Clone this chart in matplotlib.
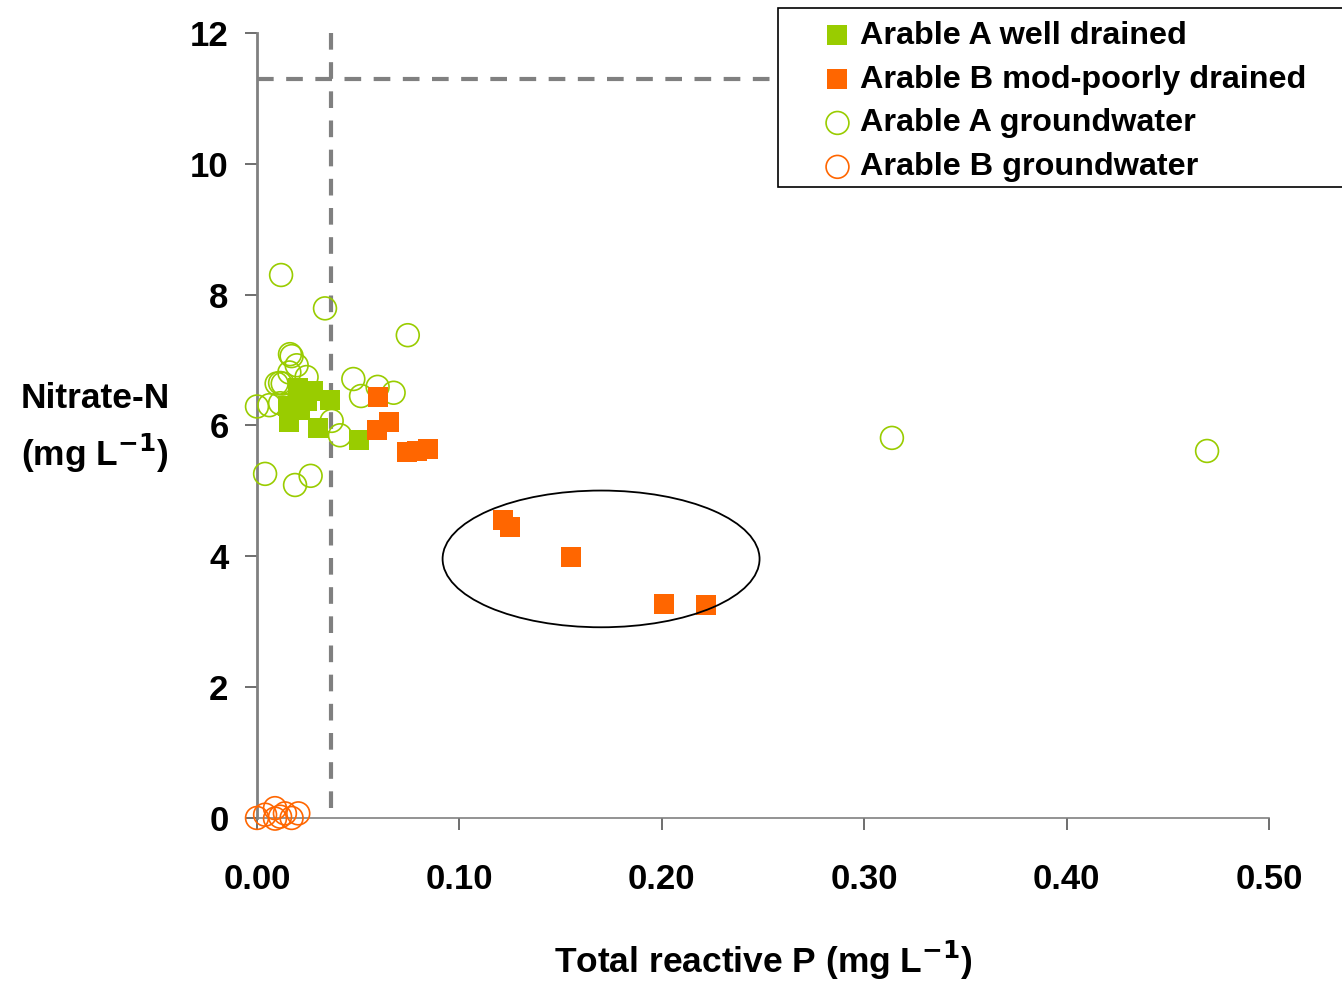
import matplotlib
matplotlib.use("Agg")
import matplotlib.pyplot as plt
from matplotlib.patches import Ellipse, Rectangle

plt.rcParams['font.family'] = ['Liberation Sans', 'DejaVu Sans']
plt.rcParams['font.weight'] = 'bold'
plt.rcParams['mathtext.default'] = 'bf'

# Arable A well drained (filled green squares)
a_drained_x = [0.0204, 0.0278, 0.0360, 0.0155, 0.0212, 0.0245, 0.0160, 0.0303, 0.0506]
a_drained_y = [6.57, 6.52, 6.39, 6.29, 6.24, 6.37, 6.06, 5.96, 5.78]

# Arable B mod-poorly drained (filled orange squares)
b_drained_x = [0.0600, 0.0654, 0.0591, 0.0740, 0.0792, 0.0847, 0.1215, 0.1250, 0.1550, 0.2010, 0.2220]
b_drained_y = [6.43, 6.06, 5.93, 5.59, 5.61, 5.64, 4.56, 4.45, 3.99, 3.27, 3.26]

# Arable A groundwater (open green circles)
a_gw_x = [0.0119, 0.0336, 0.0745, 0.0163, 0.0171, 0.0196, 0.0160, 0.0245, 0.0097, 0.0114,
          0.0127, 0.0476, 0.0596, 0.0514, 0.0675, 0.0000, 0.0061, 0.0114, 0.0369, 0.0410,
          0.0040, 0.0188, 0.0265, 0.3137, 0.4694]
a_gw_y = [8.30, 7.79, 7.38, 7.09, 7.06, 6.92, 6.81, 6.74, 6.64, 6.65,
          6.64, 6.71, 6.59, 6.45, 6.50, 6.29, 6.31, 6.34, 6.07, 5.85,
          5.26, 5.09, 5.23, 5.81, 5.61]

# Arable B groundwater (open orange circles)
b_gw_x = [0.0000, 0.0040, 0.0089, 0.0114, 0.0138, 0.0171, 0.0204, 0.0089]
b_gw_y = [0.00, 0.05, 0.15, 0.02, 0.07, 0.00, 0.07, -0.01]

# reference lines
p_limit = 0.0366
n_limit = 11.3

green = '#99CC00'
orange = '#FF6600'

fig = plt.figure(figsize=(13.42, 9.81), dpi=100)
ax = fig.add_axes([0.1915, 0.1662, 0.7541, 0.8002])

# dashed limit lines, drawn from the top / left so the dashes start at the axis ends
ax.plot([p_limit, p_limit], [12, 0], color='#808080', lw=3, ls=(0, (4, 3)), zorder=1, clip_on=False)
ax.plot([0, 0.5], [n_limit, n_limit], color='#808080', lw=3, ls=(0, (4, 3)), zorder=1)

ax.scatter(a_gw_x, a_gw_y, s=270, facecolors='none', edgecolors=green, linewidths=1.2,
           label='Arable A groundwater', zorder=3, clip_on=False)
ax.scatter(b_gw_x, b_gw_y, s=270, facecolors='none', edgecolors=orange, linewidths=1.2,
           label='Arable B groundwater', zorder=3, clip_on=False)
ax.scatter(a_drained_x, a_drained_y, s=210, marker='s', color=green, linewidths=0,
           label='Arable A well drained', zorder=4)
ax.scatter(b_drained_x, b_drained_y, s=210, marker='s', color=orange, linewidths=0,
           label='Arable B mod-poorly drained', zorder=4)

ax.add_patch(Ellipse((0.170, 3.96), 0.1566, 2.09, fill=False, edgecolor='black', lw=1.3, zorder=5))

ax.set_xlim(0, 0.5)
ax.set_ylim(0, 12)
ax.set_xticks([0, 0.1, 0.2, 0.3, 0.4, 0.5])
ax.set_xticklabels(['0.00', '0.10', '0.20', '0.30', '0.40', '0.50'])
ax.set_yticks([0, 2, 4, 6, 8, 10, 12])
ax.tick_params(labelsize=25, length=8.5, width=1.2, color='#555555')
ax.tick_params(axis='y', pad=12)
ax.tick_params(axis='x', pad=24)
for lab in ax.get_xticklabels() + ax.get_yticklabels():
    lab.set_fontweight('bold')
for s in ['top', 'right']:
    ax.spines[s].set_visible(False)
ax.spines['left'].set_color('#808080')
ax.spines['left'].set_linewidth(2)
ax.spines['bottom'].set_color('#808080')
ax.spines['bottom'].set_linewidth(1.2)

fig.text(0.5686, 0.021, 'Total reactive P (mg L$^{-1}$)', fontsize=25.5, fontweight='bold',
         ha='center', va='center')
fig.text(0.071, 0.563, 'Nitrate-N\n(mg L$^{-1}$)', fontsize=25.5, fontweight='bold',
         ha='center', va='center', linespacing=1.5)

# legend frame drawn separately so it can run off the right edge
frame = Rectangle((0.5797, 0.8094), 0.45, 0.1824, transform=fig.transFigure,
                  facecolor='white', edgecolor='black', lw=1.2, zorder=5)
fig.patches.append(frame)

handles, labels = ax.get_legend_handles_labels()
order = [2, 3, 0, 1]
leg = fig.legend([handles[i] for i in order], [labels[i] for i in order],
                 loc='upper left', bbox_to_anchor=(0.612, 0.979), fontsize=23.3,
                 frameon=False, borderpad=0, handlelength=1.0,
                 handletextpad=0.2, labelspacing=0.43, markerscale=1.0, borderaxespad=0)
leg.set_zorder(6)
for t in leg.get_texts():
    t.set_fontweight('bold')

fig.savefig('out.png', dpi=100)
